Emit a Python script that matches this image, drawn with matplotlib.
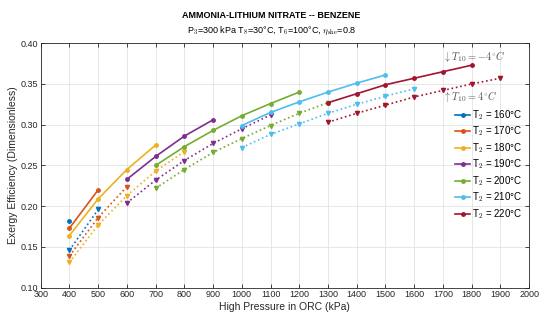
import matplotlib
matplotlib.use("Agg")
import matplotlib.pyplot as plt

plt.rcParams['font.family'] = ['Liberation Sans', 'DejaVu Sans']
plt.rcParams['mathtext.fontset'] = 'cm'

# T2 temperatures (legend)
temps = [160, 170, 180, 190, 200, 210, 220]
colors = ['#0072BD', '#D95319', '#EDB120', '#7E2F8E', '#77AC30', '#4DBEEE', '#A2142F']

# solid lines: T10 = -4 C
solid_x = [
    [400],
    [400, 500],
    [400, 500, 600, 700],
    [600, 700, 800, 900],
    [700, 800, 900, 1000, 1100, 1200],
    [1000, 1100, 1200, 1300, 1400, 1500],
    [1300, 1400, 1500, 1600, 1700, 1800],
]
solid_y = [
    [0.182],
    [0.173, 0.220],
    [0.164, 0.209, 0.245, 0.275],
    [0.233, 0.261, 0.286, 0.306],
    [0.250, 0.273, 0.293, 0.311, 0.326, 0.340],
    [0.299, 0.315, 0.328, 0.340, 0.351, 0.361],
    [0.327, 0.338, 0.349, 0.357, 0.365, 0.373],
]

# dotted lines: T10 = 4 C
dot_x = [
    [400, 500],
    [400, 500, 600],
    [400, 500, 600, 700, 800],
    [600, 700, 800, 900, 1000, 1100],
    [700, 800, 900, 1000, 1100, 1200, 1300],
    [1000, 1100, 1200, 1300, 1400, 1500, 1600],
    [1300, 1400, 1500, 1600, 1700, 1800, 1900],
]
dot_y = [
    [0.146, 0.196],
    [0.139, 0.186, 0.224],
    [0.131, 0.177, 0.213, 0.243, 0.267],
    [0.204, 0.232, 0.256, 0.277, 0.295, 0.312],
    [0.222, 0.245, 0.266, 0.283, 0.299, 0.314, 0.327],
    [0.272, 0.288, 0.301, 0.314, 0.325, 0.335, 0.344],
    [0.303, 0.314, 0.324, 0.334, 0.342, 0.350, 0.357],
]

fig = plt.figure(figsize=(5.5, 3.2), dpi=100)
ax = fig.add_axes([0.074, 0.101, 0.888, 0.764])

handles = []
for i, t in enumerate(temps):
    h, = ax.plot(solid_x[i], solid_y[i], '-', color=colors[i], lw=1.2,
                 marker='o', markersize=2.5, label=f'T$_2$ = {t}°C')
    ax.plot(dot_x[i], dot_y[i], ':', color=colors[i], lw=1.2,
            marker='v', markersize=3)
    handles.append(h)

ax.set_xlim(300, 2000)
ax.set_ylim(0.10, 0.40)
ax.set_xticks(range(300, 2001, 100))
yt = [0.10, 0.15, 0.20, 0.25, 0.30, 0.35, 0.40]
ax.set_yticks(yt)
ax.set_yticklabels([f'{v:.2f}' for v in yt])
ax.tick_params(direction='in', top=True, right=True, labelsize=6.5,
               colors='#262626', length=3, width=0.6, pad=2)
ax.grid(True, color='#e3e3e3', lw=0.6)
ax.set_axisbelow(True)
for s in ax.spines.values():
    s.set_color('#262626')
    s.set_linewidth(0.6)

ax.set_xlabel('High Pressure in ORC (kPa)', fontsize=7.5, color='#262626', labelpad=2)
ax.set_ylabel('Exergy Efficiency (Dimensionless)', fontsize=7.5, color='#262626', labelpad=2)

fig.text(0.493, 0.953, 'AMMONIA-LITHIUM NITRATE -- BENZENE', ha='center', va='center',
         fontsize=6.5, fontweight='bold')
fig.text(0.493, 0.905, r'P$_3$=300 kPa T$_8$=30°C, T$_6$=100°C, $\eta_{\rm she}$=0.8',
         ha='center', va='center', fontsize=6.5)

ax.text(1700, 0.384, r'$\downarrow T_{10} = -4^{\circ}C$', fontsize=7.5, color='#555555', va='center')
ax.text(1700, 0.335, r'$\uparrow T_{10} = 4^{\circ}C$', fontsize=7.5, color='#555555', va='center')

ax.legend(handles=handles, loc='upper right', bbox_to_anchor=(1.0, 0.763), frameon=False,
          fontsize=7, handlelength=1.5, handletextpad=0.2, labelspacing=0.3, borderpad=0.2)

fig.savefig('out.png', dpi=100)
